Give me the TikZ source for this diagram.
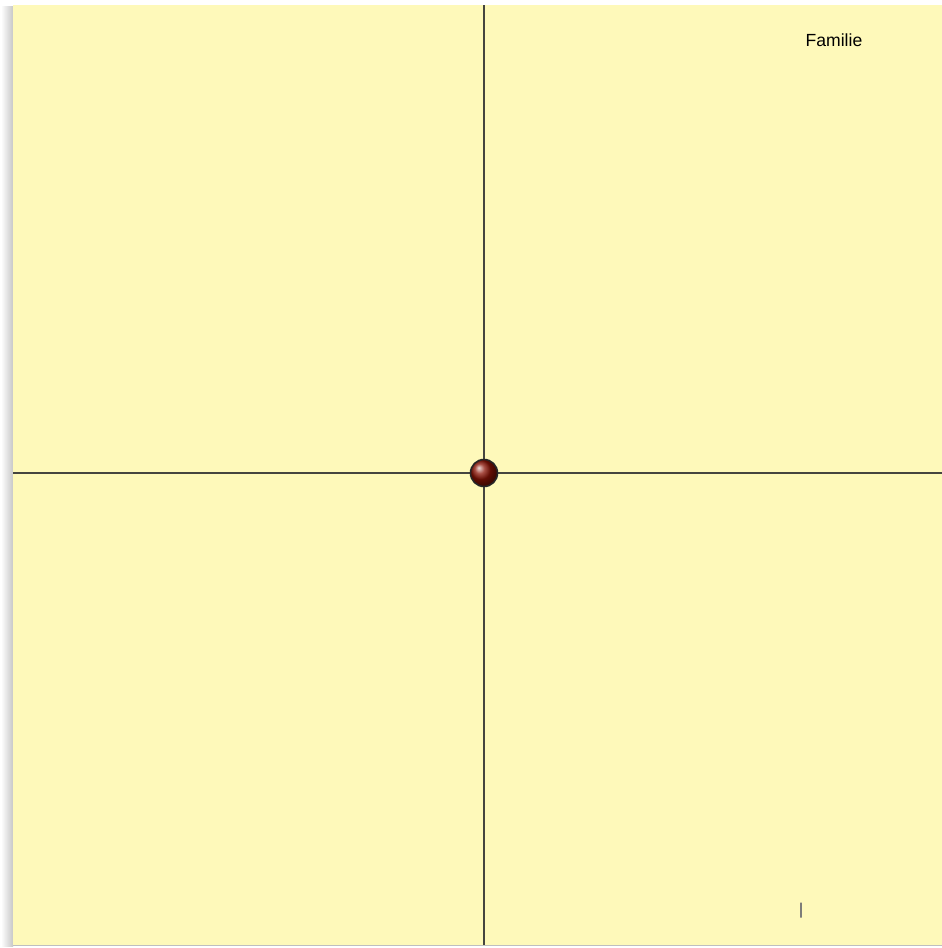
\documentclass[tikz,border=0pt]{standalone}
\usepackage{fontspec}
\setmainfont{Liberation Sans}
\usetikzlibrary{positioning}
\definecolor{paper}{HTML}{FEF9BA}
\definecolor{axisgray}{HTML}{45453F}
\definecolor{dotred}{HTML}{8A1204}
\tikzset{
  axisline/.style={draw=axisgray,line width=1.1pt},
  origindot/.style={circle,draw=black!85,line width=0.9pt,inner sep=0pt,minimum size=0.54cm,
    ball color=dotred,shading=ball},
  famlabel/.style={font=\fontsize{10}{12}\selectfont,inner sep=1pt}
}
\begin{document}
\begin{tikzpicture}[x=0.02cm,y=-0.02cm]
  \useasboundingbox (0,0) rectangle (942,948);
  \fill[white] (0,0) rectangle (942,948);
  % shadow on the left edge
  \shade[left color=white,right color=black!22] (1,6) rectangle (13,946);
  \fill[paper] (13,5) rectangle (942,945);
  \draw[black!25,line width=0.8pt] (13,945.5) -- (942,945.5);

  \coordinate (top) at (484,5);
  \coordinate (bottom) at (484,945);
  \coordinate (left) at (13,473);
  \coordinate (right) at (942,473);
  \draw[axisline] (top) -- (bottom);
  \draw[axisline] (left) -- (right);

  \node[origindot] (O) at (484,473) {};
  \node[famlabel] (fam) at (834,40) {Familie};
  \node[draw=axisgray!70,line width=0.6pt,inner sep=0pt,minimum height=0.3cm,minimum width=0pt] (tick) at (801,910) {};
\end{tikzpicture}
\end{document}
